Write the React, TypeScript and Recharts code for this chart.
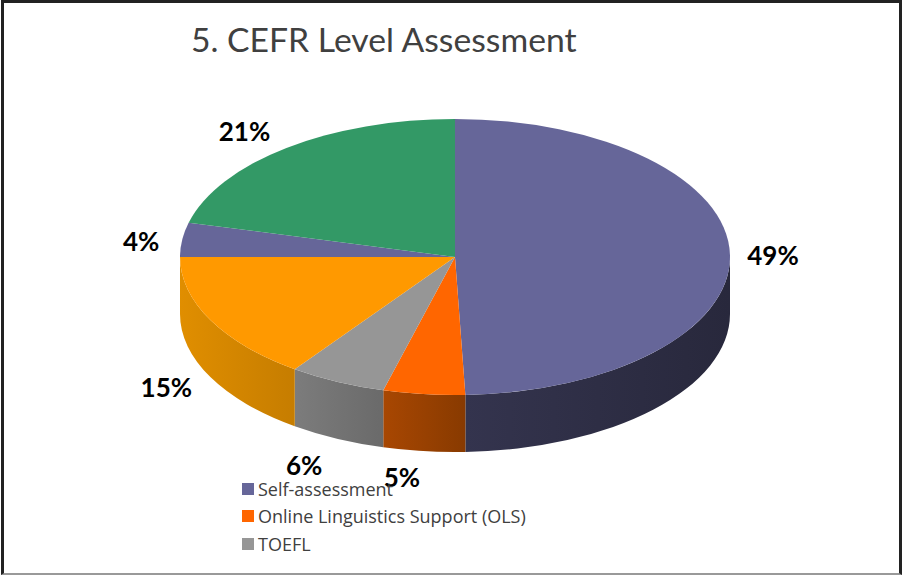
import { Legend, Pie, PieChart } from 'recharts'

const LEGEND_NAMES = ['Self-assessment', 'Online Linguistics Support (OLS)', 'TOEFL']
const SHARES = [49.4, 4.8, 5.7, 15.1, 4, 21]
const TOP_COLORS = ['#666699', '#ff6600', '#969696', '#ff9900', '#666699', '#339966']
const WALL_COLORS = [
  ['#34344e', '#28283c'],
  ['#a84702', '#883a00'],
  ['#7c7c7c', '#6a6a6a'],
  ['#e08e00', '#c67d00'],
  ['#3d3d5c', '#3d3d5c'],
  ['#1f5c3d', '#1f5c3d'],
]

// the legend in the picture is cut off after three names, the other slices stay unnamed
const chartData = SHARES.map((value, i) => ({ name: LEGEND_NAMES[i] ?? '', value, fill: TOP_COLORS[i] }))

const SQUASH = 0.502
const DEPTH = 57
const FONT = 'Lato, "Open Sans", sans-serif'
const RAD = Math.PI / 180

// how far each percent label sits from the rim point of its slice
const LABEL_NUDGE = [
  [43, 1],
  [-22, 83],
  [-33, 83],
  [-44, 67],
  [-41, 1],
  [-42, -17],
]

function rimPoint(cx: number, cy: number, r: number, deg: number) {
  return { x: cx + r * Math.cos(deg * RAD), y: cy - r * SQUASH * Math.sin(deg * RAD) }
}

function TopSlice({ cx, cy, outerRadius, startAngle, endAngle, fill }: any) {
  const a = rimPoint(cx, cy, outerRadius, startAngle)
  const b = rimPoint(cx, cy, outerRadius, endAngle)
  const large = startAngle - endAngle > 180 ? 1 : 0
  const ry = outerRadius * SQUASH
  return (
    <path
      d={`M${cx} ${cy}L${a.x} ${a.y}A${outerRadius} ${ry} 0 ${large} 1 ${b.x} ${b.y}Z`}
      fill={fill}
    />
  )
}

function WallSlice({ cx, cy, outerRadius, startAngle, endAngle, index }: any) {
  // only the front half of the rim has a visible wall
  const hi = Math.min(startAngle, 0)
  const lo = Math.max(endAngle, -180)
  if (hi <= lo) return null
  const a = rimPoint(cx, cy, outerRadius, hi)
  const b = rimPoint(cx, cy, outerRadius, lo)
  const ry = outerRadius * SQUASH
  const id = `wall-${index}`
  return (
    <g>
      <defs>
        <linearGradient id={id} x1="0" y1="0" x2="1" y2="0">
          <stop offset="0%" stopColor={WALL_COLORS[index][0]} />
          <stop offset="100%" stopColor={WALL_COLORS[index][1]} />
        </linearGradient>
      </defs>
      <path
        d={`M${a.x} ${a.y}A${outerRadius} ${ry} 0 0 1 ${b.x} ${b.y}L${b.x} ${b.y + DEPTH}A${outerRadius} ${ry} 0 0 0 ${a.x} ${a.y + DEPTH}Z`}
        fill={`url(#${id})`}
      />
    </g>
  )
}

function PercentLabel({ cx, cy, outerRadius, midAngle, index, value }: any) {
  const p = rimPoint(cx, cy, outerRadius, midAngle)
  const [dx, dy] = LABEL_NUDGE[index]
  return (
    <text
      x={p.x + dx}
      y={p.y + dy}
      textAnchor="middle"
      dominantBaseline="central"
      fontFamily={FONT}
      fontSize={26}
      fontWeight={700}
      fill="#000"
    >
      {Math.round(value)}%
    </text>
  )
}

function LegendList({ payload }: any) {
  return (
    <div style={{ fontFamily: '"Open Sans", sans-serif', fontSize: 18, color: '#404040' }}>
      {(payload || []).slice(0, LEGEND_NAMES.length).map((entry: any) => (
        <div key={entry.value} style={{ display: 'flex', alignItems: 'center', height: 27.5 }}>
          <span
            style={{ width: 12, height: 12, marginRight: 4, background: entry.payload?.fill ?? entry.color }}
          />
          {entry.value}
        </div>
      ))}
    </div>
  )
}

export default function App() {
  return (
    <div style={{ position: 'absolute', left: 0, top: 0, width: 903, height: 575, background: '#fff' }}>
      <PieChart width={903} height={575} margin={{ top: 0, right: 0, bottom: 0, left: 0 }}>
        <text x={191} y={52} fontFamily={FONT} fontSize={33.7} fill="#404040">
          5. CEFR Level Assessment
        </text>
        <Pie
          data={chartData}
          dataKey="value"
          nameKey="name"
          cx={455}
          cy={257}
          outerRadius={275}
          startAngle={90}
          endAngle={-270}
          paddingAngle={0}
          legendType="none"
          shape={WallSlice}
          isAnimationActive={false}
        />
        <Pie
          data={chartData}
          dataKey="value"
          nameKey="name"
          cx={455}
          cy={257}
          outerRadius={275}
          startAngle={90}
          endAngle={-270}
          paddingAngle={0}
          shape={TopSlice}
          label={PercentLabel}
          labelLine={false}
          isAnimationActive={false}
        />
        <Legend
          content={LegendList}
          itemSorter={null}
          wrapperStyle={{ position: 'absolute', left: 242, top: 475, width: 320, bottom: 'auto' }}
        />
      </PieChart>
      <div
        style={{
          position: 'absolute',
          left: 1,
          top: 0,
          width: 901,
          height: 575,
          boxSizing: 'border-box',
          borderTop: '3px solid #222',
          borderLeft: '3px solid #222',
          borderRight: '3px solid #222',
          borderBottom: '2px solid #999',
          pointerEvents: 'none',
        }}
      />
    </div>
  )
}
